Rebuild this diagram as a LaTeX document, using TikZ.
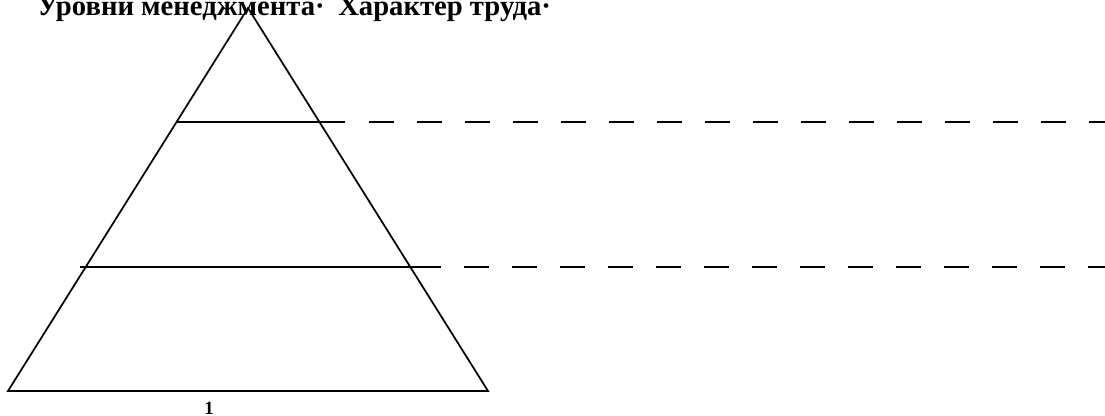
\documentclass[tikz,border=0pt]{standalone}
\usepackage{fontspec}
\setmainfont{Liberation Serif}
\begin{document}
\begin{tikzpicture}[x=0.75pt,y=-0.75pt,
  edge/.style={line width=1.3pt},
  level/.style={line width=1.5pt},
  guide/.style={line width=1.5pt,dash pattern=on 18.75pt off 17.25pt},
  lbl/.style={font=\bfseries\fontsize{21.5pt}{21.5pt}\selectfont,inner sep=0pt,anchor=base west},
  num/.style={font=\bfseries\fontsize{14pt}{14pt}\selectfont,inner sep=0pt,anchor=base}]
\useasboundingbox (0,0) rectangle (1105,416);
\coordinate (A) at (248,8);
\coordinate (BL) at (8,391);
\coordinate (BR) at (488,391);
\draw[edge] (A) -- (BL) -- (BR) -- cycle;
\coordinate (L1a) at (177,122);
\coordinate (L1b) at (345,122);
\coordinate (L1c) at (369,122);
\coordinate (L1d) at (1105,122);
\draw[level] (L1a) -- (L1b);
\draw[guide] (L1c) -- (L1d);
\coordinate (L2a) at (80,267);
\coordinate (L2b) at (441,267);
\coordinate (L2c) at (464,267);
\coordinate (L2d) at (1105,267);
\draw[level] (L2a) -- (L2b);
\draw[guide] (L2c) -- (L2d);
\node[lbl] (t1) at (37,16) {Уровни менеджмента·};
\node[lbl] (t2) at (338,16) {Характер труда·};
\node[num] (n1) at (209,414) {1};
\end{tikzpicture}
\end{document}
